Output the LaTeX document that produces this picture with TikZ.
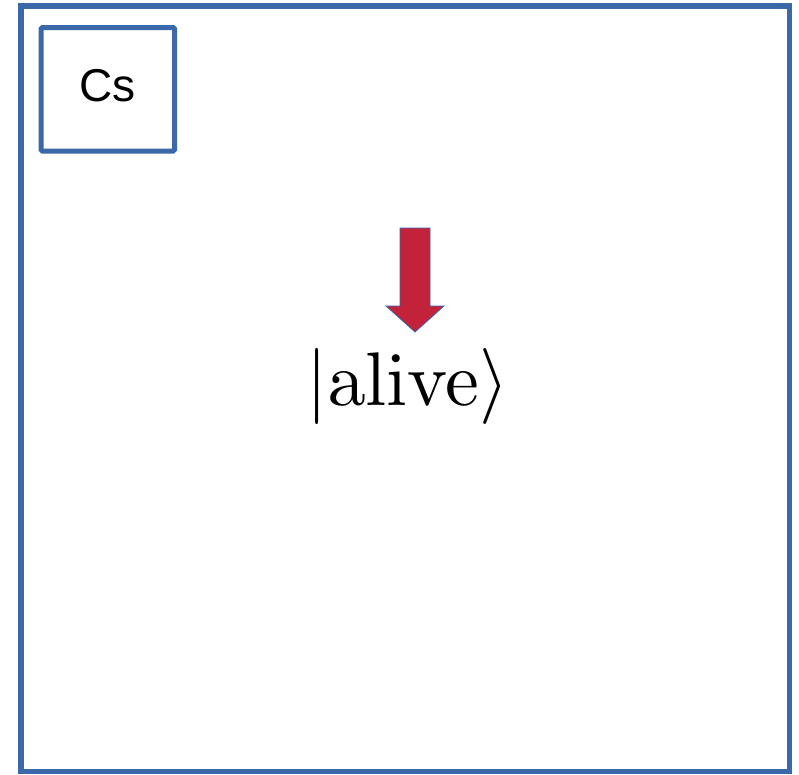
\documentclass[tikz,border=0pt]{standalone}
\usepackage[no-math]{fontspec}
\newfontfamily\arialfont{Liberation Sans}
\definecolor{frameblue}{RGB}{58,104,168}
\definecolor{arrowred}{RGB}{194,34,58}

\tikzstyle{frame} = [draw=frameblue, line width=5.5pt]
\tikzstyle{labelbox} = [rectangle, rounded corners=1.5pt, minimum width=133.5pt, minimum height=123.5pt, text centered, text depth=8pt, draw=frameblue, line width=5pt, font=\arialfont\fontsize{46}{50}\selectfont]
\tikzstyle{ket} = [inner sep=0pt, scale=7.6, transform shape]
\tikzstyle{blockarrow} = [fill=arrowred, draw=frameblue, line width=0.8pt, line join=miter]

\begin{document}
\begin{tikzpicture}[x=1pt, y=-1pt]
			
			\useasboundingbox (0,0) rectangle (799,774);
			\fill[white] (0,0) rectangle (799,774);
			\draw [frame] (21,6) rectangle (789.5,771.5);
			
			\node (cs) [labelbox] at (107.75,89.25) {Cs};
			\node (state) [ket, anchor=base] at (407.5,405) {$|\mathrm{alive}\rangle$};
			
			% red arrow pointing down at the state
			\draw [blockarrow] (400,228) -- (430,228) -- (430,306) -- (444,306)
				-- (415,332) -- (386,306) -- (400,306) -- cycle;
			
		\end{tikzpicture}
\end{document}
